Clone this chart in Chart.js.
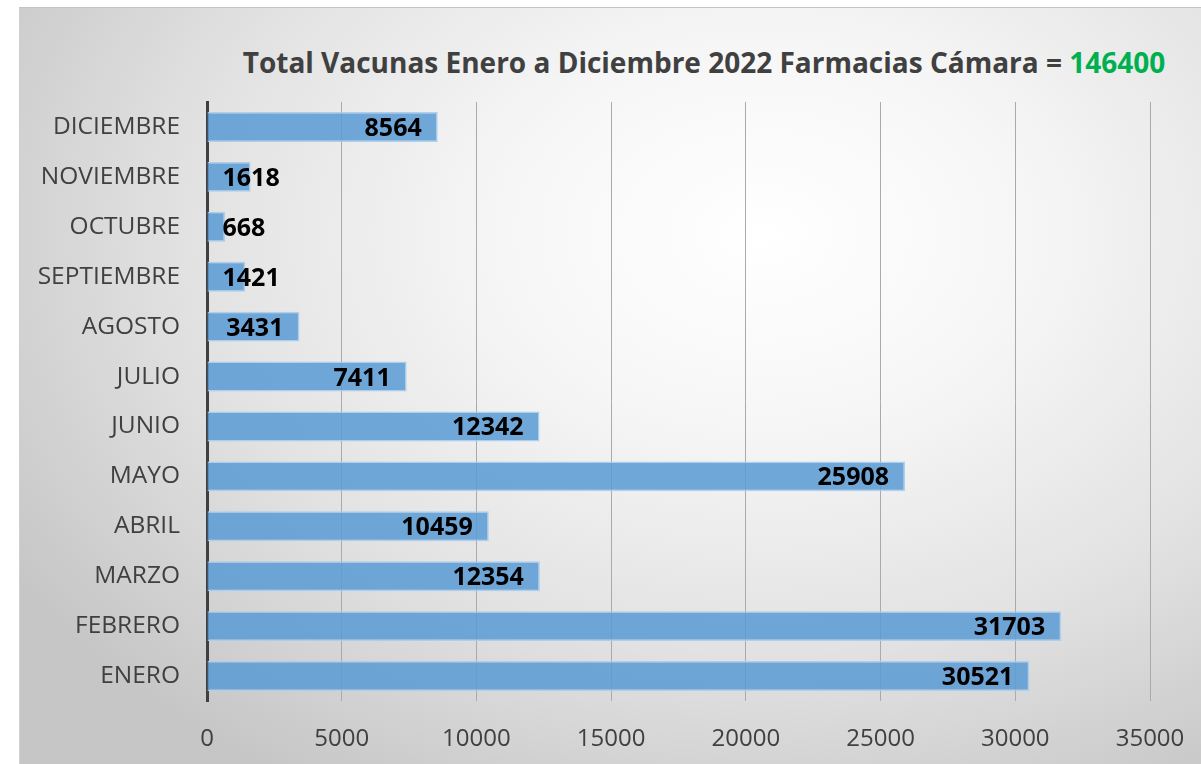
<!DOCTYPE html>
<html>
<head>
<meta charset="utf-8">
<script src="https://cdn.jsdelivr.net/npm/chart.js@4/dist/chart.umd.min.js"></script>
<style>
  html, body { margin: 0; padding: 0; background: #ffffff; }
  #wrap { position: relative; width: 1201px; height: 764px; overflow: hidden; }
  #bg { position: absolute; left: 19px; top: 7px; width: 1182px; height: 757px;
        border-top: 1px solid #c4c4c4; border-left: 1px solid #d0d0d0; box-sizing: border-box;
        background: radial-gradient(ellipse 75% 85% at 63% 30%, #ffffff 0%, #f6f6f6 30%, #e2e2e2 65%, #c6c6c6 100%); }
  #title { position: absolute; left: 0; width: 1408px; top: 43px; text-align: center;
           font-family: "Open Sans", sans-serif; font-weight: bold; font-size: 28px; color: #404040;
           line-height: 38px; white-space: nowrap; }
  #title .total { color: #00b050; }
  canvas { position: absolute; left: 0; top: 0; }
</style>
</head>
<body>
<div id="wrap">
  <div id="bg"></div>
  <div id="title">Total Vacunas Enero a Diciembre 2022 Farmacias Cámara = <span class="total" id="total"></span></div>
  <canvas id="c" width="1201" height="764"></canvas>
</div>
<script>
const months = ["ENERO", "FEBRERO", "MARZO", "ABRIL", "MAYO", "JUNIO", "JULIO", "AGOSTO", "SEPTIEMBRE", "OCTUBRE", "NOVIEMBRE", "DICIEMBRE"];
const vaccines = [30521, 31703, 12354, 10459, 25908, 12342, 7411, 3431, 1421, 668, 1618, 8564];
const xTicks = [0, 5000, 10000, 15000, 20000, 25000, 30000, 35000];

document.getElementById('total').textContent = vaccines.reduce((a, b) => a + b, 0);

const valueLabels = {
  id: 'valueLabels',
  afterDatasetsDraw(chart) {
    const ctx = chart.ctx;
    const meta = chart.getDatasetMeta(0);
    ctx.save();
    ctx.font = 'bold 25px "Open Sans", sans-serif';
    ctx.fillStyle = '#000000';
    ctx.textAlign = 'left';
    ctx.textBaseline = 'alphabetic';
    meta.data.forEach((bar, i) => {
      const txt = String(vaccines[i]);
      const w = ctx.measureText(txt).width;
      let left = bar.x - 16 - w;
      if (left < bar.base + 15) left = bar.base + 15;
      ctx.fillText(txt, left, bar.y + 9);
    });
    ctx.restore();
  }
};

new Chart(document.getElementById('c'), {
  type: 'bar',
  data: {
    labels: months,
    datasets: [{
      data: vaccines,
      backgroundColor: 'rgba(91,155,213,0.86)',
      borderColor: 'rgba(170,205,237,0.95)',
      borderWidth: 1.5,
      barPercentage: 0.6,
      categoryPercentage: 1.0
    }]
  },
  options: {
    indexAxis: 'y',
    responsive: false,
    animation: false,
    events: [],
    layout: { padding: { top: 102, right: 0, left: 0, bottom: 0 } },
    plugins: { legend: { display: false }, title: { display: false }, tooltip: { enabled: false } },
    scales: {
      x: {
        min: 0, max: 35000,
        afterBuildTicks(scale) { scale.ticks = xTicks.map(v => ({ value: v })); },
        grid: { color: '#aaaaaa', lineWidth: 1, drawTicks: false },
        border: { display: false },
        ticks: { color: '#404040', font: { family: '"Open Sans", sans-serif', size: 24 }, padding: 24, maxRotation: 0,
                 callback: (v) => String(v) },
        afterFit(scale) { scale.height = 63; scale.paddingLeft = 0; scale.paddingRight = 51; }
      },
      y: {
        reverse: true,
        grid: { display: false, drawTicks: false },
        border: { display: true, color: '#404040', width: 3 },
        ticks: { color: '#404040', font: { family: '"Open Sans", sans-serif', size: 24.5 }, padding: 27 },
        afterFit(scale) { scale.width = 207; scale.paddingTop = 0; scale.paddingBottom = 0; }
      }
    }
  },
  plugins: [valueLabels]
});
</script>
</body>
</html>
